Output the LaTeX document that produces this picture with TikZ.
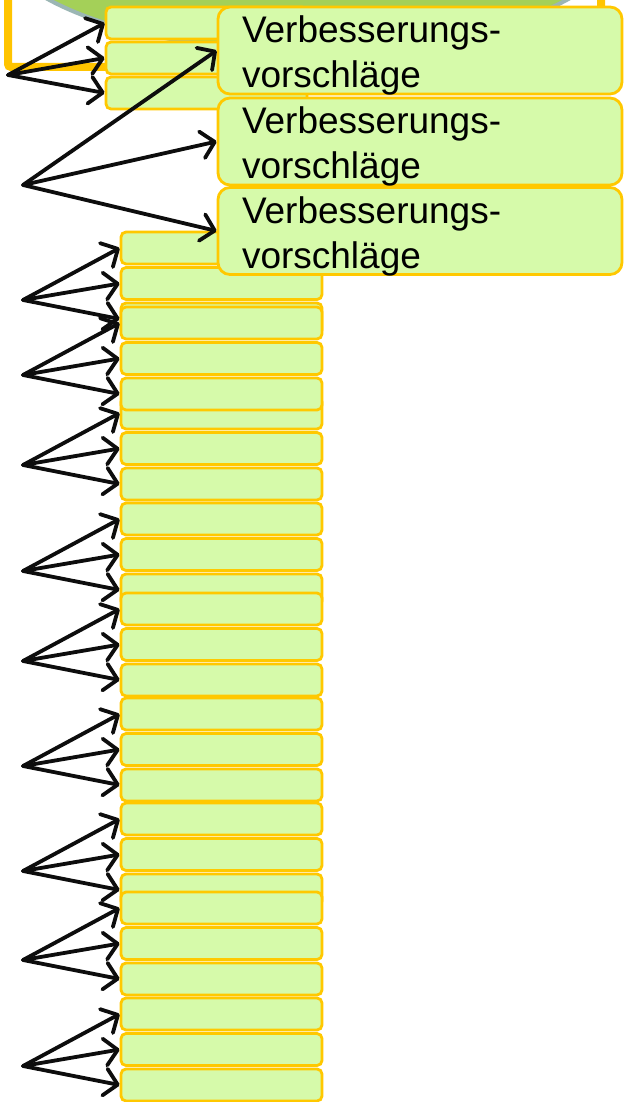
\documentclass[tikz,border=0pt]{standalone}
\usepackage{fontspec}
\setmainfont{Liberation Sans}
\usetikzlibrary{arrows.meta}
\definecolor{boxfill}{RGB}{214,250,170}
\definecolor{boxline}{RGB}{255,200,0}
\definecolor{framecol}{RGB}{255,196,0}
\definecolor{ovalfill}{RGB}{164,208,88}
\definecolor{ovalline}{RGB}{155,182,180}
\tikzset{
  smallbox/.style={rectangle, rounded corners=5pt, draw=boxline, fill=boxfill,
    line width=2.8pt, minimum width=201pt, minimum height=32pt, inner sep=0pt},
  bigbox/.style={rectangle, rounded corners=12pt, draw=boxline, fill=boxfill,
    line width=2.8pt, minimum width=404pt, minimum height=87pt,
    inner xsep=24pt, inner ysep=0pt, text width=356pt, align=left,
    text height=36pt, text depth=51pt, font=\fontsize{37pt}{45pt}\selectfont},
  arr/.style={draw=black!95, line width=3.8pt, line cap=round, line join=round,
    -{Straight Barb[length=13pt,width=27pt,round]}}
}
\begin{document}
\begin{tikzpicture}[x=1pt,y=-1pt]
\useasboundingbox (0,0) rectangle (626,1102);
\clip (0,0) rectangle (626,1102);
\fill[white] (0,0) rectangle (626,1102);
% oval and frame behind the boxes
\draw[fill=ovalfill, draw=ovalline, line width=4pt] (308,-69) ellipse [x radius=316pt, y radius=120pt];
\draw[framecol, line width=8pt, rounded corners=3pt] (8,-80) rectangle (601,67);
% first small group
\foreach \i/\y in {1/23,2/58,3/93}
  \node[smallbox] (g1-\i) at (206.5,\y) {};
% column of small groups (drawing order sets the overlaps)
\foreach \g/\t in {3/231,5/396,4/306,6/502,7/592,8/697,9/802,10/891,11/997} {
  \foreach \i/\d in {1/17,2/52.5,3/88}
    \node[smallbox] (g\g-\i) at (221.5,\t+\d) {};
  \coordinate (a\g) at (23,\t+69);
}
% suggestion boxes
\foreach \i/\y in {1/50.5,2/141.5,3/231}
  \node[bigbox] (v\i) at (420,\y) {Verbesserungs-\\vorschläge};
% fans of arrows
\coordinate (a1) at (8,75);
\coordinate (a2) at (23,185);
\foreach \i in {1,2,3} \draw[arr] (a1) -- (g1-\i.west);
\foreach \i in {1,2,3} \draw[arr] (a2) -- (v\i.west);
\foreach \g in {3,...,11}
  \foreach \i in {1,2,3} \draw[arr] (a\g) -- (g\g-\i.west);
\end{tikzpicture}
\end{document}
